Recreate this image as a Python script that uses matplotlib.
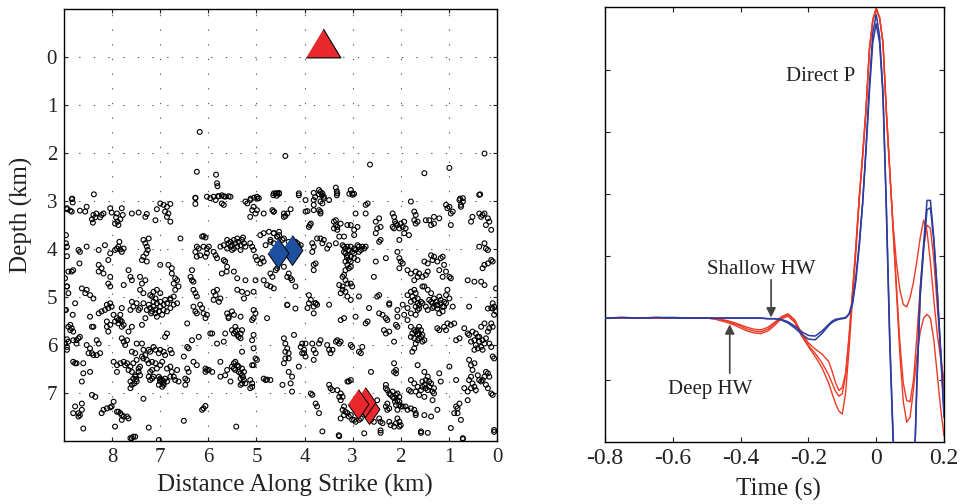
import numpy as np
import matplotlib
matplotlib.use('Agg')
import matplotlib.pyplot as plt

plt.rcParams['font.family'] = ['Liberation Serif', 'DejaVu Serif']
plt.rcParams['axes.unicode_minus'] = False

# Seismicity: (distance along strike km, depth km)
events_top = [
    (6.18, 1.56), (4.40, 2.06), (2.64, 2.24), (0.26, 2.01), (1.51, 2.42), (0.99, 2.31), (6.24, 2.39), (5.84, 2.45),
    (8.38, 2.86), (8.83, 2.95), (6.27, 2.93), (5.96, 2.94), (5.80, 2.90), (5.72, 2.88), (5.65, 2.91), (5.58, 2.90),
    (5.12, 2.95), (5.05, 2.93), (4.98, 2.95), (4.65, 2.88), (4.58, 2.89), (4.12, 2.88), (3.78, 2.92), (3.70, 2.86),
    (3.64, 2.88), (3.60, 2.95), (3.33, 2.80), (3.33, 2.88), (3.07, 2.85), (3.00, 2.87), (0.77, 2.95), (0.35, 2.86),
    (8.94, 3.15), (8.96, 3.88), (8.94, 4.15), (8.91, 4.47), (8.94, 4.78), (8.91, 4.92), (8.96, 5.27), (8.91, 5.62),
    (8.94, 5.88),
]

events_nw = [
    (8.84, 2.96), (8.82, 3.03), (8.94, 3.17), (8.87, 3.20), (8.84, 3.22), (8.53, 3.12), (8.67, 3.20), (8.56, 3.22),
    (8.39, 3.29), (8.42, 3.38), (8.35, 3.34), (8.40, 3.45), (8.33, 3.26), (8.22, 3.29), (8.18, 3.26), (8.25, 3.34),
    (8.04, 3.15), (8.01, 3.24), (7.92, 3.34), (7.89, 3.43), (7.87, 3.50), (7.94, 3.47), (7.83, 3.38), (7.90, 3.26),
    (7.80, 3.15), (7.78, 3.29), (7.59, 3.26), (7.45, 3.24), (7.28, 3.27), (7.31, 3.33), (7.07, 3.17), (7.10, 3.40),
    (7.00, 3.05), (6.93, 3.08), (6.86, 3.12), (6.79, 3.06), (6.90, 3.22), (6.83, 3.26), (6.86, 3.33), (6.79, 3.43),
    (6.27, 2.94), (6.27, 3.06), (6.03, 2.91), (5.89, 2.91), (5.78, 2.90), (5.68, 2.90), (5.54, 2.91), (5.85, 2.98),
    (5.72, 3.05), (5.68, 3.08), (5.82, 2.63), (5.81, 2.69), (5.23, 3.01), (5.19, 3.05), (5.13, 2.98), (4.99, 2.91),
    (4.95, 2.94), (5.06, 3.12), (5.09, 3.19), (5.02, 3.26), (5.13, 3.33), (4.99, 3.19), (4.85, 3.26), (4.64, 3.22),
    (4.60, 2.84), (4.53, 2.85),
    (8.96, 3.71), (8.94, 3.95), (8.70, 4.02), (8.67, 4.06), (8.53, 3.95), (8.28, 4.02), (8.15, 3.92), (8.04, 4.09),
    (8.08, 4.23), (7.94, 4.02), (7.90, 3.99), (7.87, 3.95), (7.83, 4.01), (7.80, 4.06), (7.76, 3.99), (7.85, 3.85),
    (8.68, 4.30), (8.81, 4.44), (8.84, 4.47), (8.98, 4.61), (8.94, 4.78), (8.28, 4.33), (8.22, 4.40), (8.28, 4.47),
    (8.18, 4.51), (8.04, 4.58), (7.66, 4.44), (7.62, 4.58), (7.59, 4.65), (7.42, 4.58), (7.31, 4.65), (7.38, 4.72),
    (7.35, 3.81), (7.31, 3.88), (7.28, 3.95), (7.26, 4.02), (7.29, 4.09), (7.35, 4.16), (7.38, 4.23), (7.24, 3.78),
    (7.28, 4.26), (7.00, 4.33), (6.83, 4.33), (6.76, 4.40), (6.76, 4.51), (6.69, 4.61), (6.65, 4.65), (6.72, 4.72),
    (6.69, 4.85), (6.62, 4.78), (6.58, 3.78), (6.34, 4.44), (6.34, 4.65), (6.37, 4.58), (6.31, 4.68), (6.27, 4.06),
    (6.24, 3.95), (6.20, 3.99), (6.24, 4.16), (6.17, 4.13), (6.10, 3.95), (6.03, 3.99), (5.99, 3.95), (6.03, 4.09),
    (6.06, 4.16), (6.13, 3.74), (6.10, 3.73), (6.06, 3.76), (5.89, 4.06), (5.85, 4.13), (5.82, 4.19), (5.75, 3.95),
    (5.68, 3.92), (5.68, 4.23), (5.65, 4.26), (5.61, 4.37), (5.62, 4.47),
    (5.61, 3.81), (5.58, 3.88), (5.54, 3.85), (5.51, 3.92), (5.47, 3.81), (5.44, 3.88), (5.40, 3.95), (5.37, 3.85),
    (5.33, 3.92), (5.30, 3.81), (5.26, 3.88), (5.23, 3.95), (5.54, 3.95), (5.47, 3.99), (5.61, 3.99), (5.33, 4.02),
    (5.40, 3.78), (5.28, 3.76), (5.51, 4.02), (5.13, 3.88), (5.09, 3.95), (5.06, 4.02), (5.02, 4.16), (4.99, 4.23),
    (4.92, 4.30), (4.88, 4.19), (4.85, 4.26), (4.92, 3.71), (4.85, 3.67), (4.74, 3.64), (4.64, 3.67), (4.57, 3.74),
    (4.71, 3.81), (4.81, 3.92), (5.47, 4.47), (5.40, 4.61), (5.23, 4.65), (5.02, 4.65), (4.85, 4.65), (4.78, 4.75),
    (4.71, 4.78), (5.72, 4.51),
    (8.63, 4.82), (8.53, 4.85), (8.56, 4.92), (8.46, 4.96), (8.39, 5.03), (8.08, 4.72), (8.04, 4.78), (7.76, 4.75),
    (7.42, 4.85), (7.35, 4.92), (7.21, 4.96), (7.14, 4.89), (7.07, 4.85), (7.00, 4.92), (7.10, 5.03), (7.17, 4.99),
    (6.79, 5.03), (6.72, 4.99), (6.31, 4.85), (6.27, 4.92), (6.24, 4.99), (5.89, 4.89), (5.82, 4.85), (5.85, 4.96),
    (5.75, 5.03), (5.40, 4.85), (5.30, 4.89), (5.19, 4.92), (5.26, 5.03), (5.06, 4.89),
]

events_sw = [
    (8.98, 5.27), (8.77, 5.13), (8.82, 5.37), (8.46, 5.41), (8.42, 5.62), (8.39, 5.62), (8.87, 5.58), (8.84, 5.65),
    (8.87, 5.69), (8.81, 5.72), (8.28, 5.34), (8.22, 5.30), (8.15, 5.27), (8.08, 5.23), (8.01, 5.20), (8.04, 5.13),
    (8.11, 5.16), (8.11, 5.51), (8.11, 5.62), (8.04, 5.58), (8.08, 5.72), (7.97, 5.37), (7.90, 5.44), (7.83, 5.48),
    (7.80, 5.51), (7.87, 5.55), (7.94, 5.51), (7.83, 5.37), (7.76, 5.58), (7.80, 5.62), (7.87, 5.48), (7.80, 5.23),
    (7.62, 5.27), (7.56, 5.20), (7.59, 5.10), (7.49, 5.13), (7.42, 5.23), (7.45, 5.27), (7.35, 5.13), (7.66, 5.72),
    (7.59, 5.62), (7.38, 5.58), (7.31, 5.44),
    (7.24, 5.16), (7.21, 5.23), (7.17, 5.30), (7.10, 5.34), (7.14, 5.20), (7.07, 5.13), (7.00, 5.20), (6.93, 5.27),
    (7.03, 5.30), (6.96, 5.37), (7.07, 5.41), (6.86, 5.30), (6.79, 5.23), (6.72, 5.16), (6.86, 5.13), (6.65, 5.13),
    (6.90, 5.06), (6.79, 5.06), (7.14, 5.10), (7.19, 5.34), (7.00, 5.10), (6.93, 5.16), (7.10, 5.26), (7.28, 5.27),
    (6.44, 5.55), (6.86, 5.76), (6.90, 5.83), (6.31, 5.20), (6.27, 5.30), (6.24, 5.34), (6.17, 5.16), (6.13, 5.23),
    (6.10, 5.34), (6.03, 5.37), (6.06, 5.44), (5.89, 5.06), (5.78, 5.10), (5.61, 5.34), (5.58, 5.41), (5.51, 5.30),
    (5.47, 5.37), (5.58, 5.44), (5.33, 5.41), (5.06, 5.27), (5.02, 5.34), (5.06, 5.44), (5.09, 5.48), (4.78, 5.44),
    (5.65, 5.76), (5.68, 5.93), (5.51, 5.69), (5.44, 5.72), (5.47, 5.76), (5.40, 5.79), (5.37, 5.83), (5.33, 5.76),
    (5.33, 5.86), (5.44, 5.62), (5.30, 5.69), (5.40, 5.69), (5.06, 5.79), (5.09, 5.90), (5.96, 5.76), (5.92, 5.76),
    (6.20, 5.83), (6.34, 5.90),
    (8.98, 5.97), (8.94, 6.04), (8.91, 5.93), (8.81, 5.90), (8.74, 5.90), (8.70, 5.86), (8.67, 5.83), (8.74, 5.97),
    (8.94, 6.10), (8.53, 6.00), (8.46, 6.07), (8.42, 6.17), (8.49, 6.17), (8.39, 6.21), (8.32, 6.21), (8.25, 6.17),
    (8.32, 5.90), (8.28, 5.97), (8.81, 6.35), (8.77, 6.38), (8.74, 6.38), (8.60, 6.38), (8.60, 6.59), (8.63, 6.76),
    (8.46, 6.56), (7.97, 6.35), (7.90, 6.42), (7.90, 6.56), (7.83, 6.38), (7.76, 6.35), (7.73, 6.42), (7.69, 6.38),
    (7.62, 6.45), (7.66, 6.52), (7.59, 6.56), (7.56, 6.38), (7.80, 5.86), (7.76, 5.93), (7.69, 5.90), (7.73, 6.00),
    (7.59, 6.14), (7.52, 6.17), (7.49, 5.97), (7.38, 5.97), (7.35, 6.10), (7.31, 6.21), (7.38, 6.24), (7.35, 6.28),
    (7.49, 6.31), (7.42, 6.45), (7.45, 6.56), (7.52, 6.63), (7.56, 6.70), (7.49, 6.76), (7.62, 6.76), (7.59, 6.83),
    (7.62, 6.90), (7.52, 6.66), (7.42, 6.63), (7.45, 6.49), (7.50, 6.71), (7.54, 6.80),
    (7.24, 6.10), (7.21, 6.14), (7.14, 6.04), (7.10, 6.10), (7.03, 6.17), (7.00, 6.10), (6.93, 6.14), (6.90, 6.21),
    (6.79, 6.10), (6.76, 6.17), (7.28, 6.31), (7.24, 6.38), (7.17, 6.35), (7.10, 6.38), (7.00, 6.42), (6.96, 6.35),
    (7.07, 6.49), (7.17, 6.52), (7.21, 6.56), (7.24, 6.66), (7.17, 6.70), (7.21, 6.73), (7.14, 6.66), (7.03, 6.66),
    (7.00, 6.70), (6.96, 6.73), (6.93, 6.76), (7.00, 6.76), (7.03, 6.83), (6.93, 6.83), (6.90, 6.70), (6.86, 6.76),
    (6.96, 6.87), (6.79, 6.66), (6.72, 6.66), (6.76, 6.56), (7.01, 6.73), (6.94, 6.80), (6.86, 6.49), (6.79, 6.45),
    (6.65, 6.52), (6.69, 6.73), (6.62, 6.76), (6.51, 6.24), (6.44, 6.49), (6.41, 6.56), (6.48, 6.70), (6.44, 6.73),
    (6.48, 6.83), (6.31, 6.35), (6.24, 6.42), (6.06, 6.49), (6.03, 6.52), (6.06, 6.56), (5.99, 6.52), (5.92, 6.56),
    (6.41, 6.07), (6.44, 6.04), (5.82, 5.97), (5.75, 6.35), (5.75, 6.66), (5.65, 6.63), (5.61, 6.52), (5.54, 6.76),
    (5.51, 6.45), (5.47, 6.49), (5.44, 6.52), (5.40, 6.42), (5.47, 6.38), (5.44, 6.35), (5.37, 6.45), (5.30, 6.49),
    (5.26, 6.56), (5.30, 6.63), (5.33, 6.70), (5.26, 6.73), (5.23, 6.80), (5.30, 6.80), (5.33, 6.83), (5.37, 6.56),
    (5.33, 6.59), (5.28, 6.67), (5.30, 6.14), (5.06, 6.07), (5.02, 6.28), (4.99, 6.31), (5.06, 6.42), (5.09, 6.42),
    (5.13, 6.73), (5.09, 6.80), (5.09, 6.87), (5.13, 6.90), (4.85, 6.70), (4.81, 6.73), (4.78, 6.72), (4.71, 6.73),
    (8.77, 7.28), (8.81, 7.42), (8.70, 7.42), (8.67, 7.46), (8.63, 7.35), (8.70, 7.49), (8.63, 7.22), (8.60, 7.74),
    (8.42, 7.04), (8.35, 7.08), (8.18, 7.35), (8.11, 7.32), (8.04, 7.30), (8.01, 7.28), (7.97, 7.18), (8.22, 7.42),
    (7.90, 7.39), (7.87, 7.39), (7.83, 7.42), (7.80, 7.46), (7.76, 7.49), (7.69, 7.49), (7.80, 7.56), (7.66, 7.53),
    (7.94, 7.70), (7.62, 7.94), (7.59, 7.94), (7.52, 7.91), (7.35, 7.12), (7.24, 7.72), (7.03, 7.98), (6.51, 7.58),
    (6.13, 7.35), (6.10, 7.32), (6.06, 7.27), (5.42, 7.70), (7.56, 7.91),
]

events_ne = [
    (4.64, 2.84), (4.57, 2.84), (4.53, 2.83), (4.12, 2.84), (3.98, 2.98), (3.81, 2.83), (3.70, 2.77), (3.67, 2.81),
    (3.63, 2.84), (3.60, 2.91), (3.67, 3.01), (3.63, 3.05), (3.81, 2.98), (3.81, 3.08), (3.49, 2.98), (3.35, 2.72),
    (3.32, 2.84), (3.04, 2.77), (3.01, 2.84), (2.97, 2.85), (4.64, 3.22), (4.67, 3.19), (4.43, 3.26), (4.40, 3.31),
    (4.36, 3.26), (4.43, 3.33), (4.29, 3.17), (3.98, 3.22), (3.94, 3.21), (3.81, 3.19), (3.70, 3.19), (3.67, 3.26),
    (3.67, 3.22), (3.87, 3.47), (3.89, 3.50), (3.91, 3.54), (3.39, 3.43), (3.35, 3.50), (3.32, 3.54), (3.39, 3.57),
    (3.32, 3.60), (3.25, 3.47), (3.35, 3.40), (2.94, 3.26), (2.73, 3.08), (2.69, 3.05), (2.73, 3.26), (3.11, 3.50),
    (3.04, 3.50), (2.90, 3.54), (2.97, 3.60), (2.97, 3.71), (3.18, 3.74), (3.28, 3.74), (2.52, 3.43), (2.45, 3.36),
    (2.49, 3.57), (2.42, 3.54), (2.52, 3.67), (2.42, 3.81), (2.45, 3.85), (2.17, 3.26), (2.14, 3.33), (2.10, 3.47),
    (2.17, 3.54), (2.14, 3.57), (2.07, 3.50), (2.00, 3.47), (1.96, 3.54), (1.93, 3.43), (1.90, 3.57), (1.93, 3.67),
    (2.12, 3.43), (2.03, 3.57), (1.83, 3.71), (2.03, 3.81), (1.72, 3.22), (1.69, 3.29), (1.72, 3.40), (1.65, 3.43),
    (1.69, 3.47), (1.79, 3.01), (1.48, 3.40), (1.41, 3.40), (1.31, 3.33), (1.20, 3.36), (1.37, 3.50), (1.31, 3.47),
    (1.06, 3.08), (0.99, 3.12), (0.92, 3.22), (0.96, 3.26), (1.03, 3.15), (0.78, 2.98), (0.75, 3.08), (0.71, 3.01),
    (0.75, 3.12), (0.71, 2.94), (0.96, 3.50), (0.51, 3.33), (0.54, 3.43), (0.37, 2.87), (0.37, 3.26), (0.30, 3.29),
    (0.26, 3.26), (0.19, 3.36), (0.16, 3.43), (0.23, 3.50), (0.12, 3.60), (0.33, 3.33),
    (4.71, 3.85), (4.64, 3.88), (4.57, 3.74), (4.53, 3.71), (4.46, 3.81), (4.43, 3.78), (4.64, 3.67), (4.53, 3.64),
    (4.33, 3.85), (4.26, 3.85), (4.19, 3.85), (4.15, 3.88), (4.08, 3.92), (4.15, 4.02), (4.12, 3.95), (4.71, 4.51),
    (4.67, 4.58), (4.60, 4.44), (4.57, 4.40), (4.43, 4.37), (4.36, 4.58), (4.33, 4.51), (4.29, 4.61), (4.26, 4.65),
    (4.19, 4.78), (4.64, 4.82), (3.84, 3.88), (3.81, 3.95), (3.74, 3.78), (3.67, 3.78), (3.60, 3.81), (3.49, 3.92),
    (3.53, 3.99), (3.63, 3.88), (3.84, 4.06), (3.81, 4.33), (3.77, 4.30), (3.81, 4.44), (3.35, 3.88),
    (3.21, 3.92), (3.18, 3.95), (3.15, 3.99), (3.11, 3.95), (3.04, 3.95), (2.97, 3.99), (2.90, 3.92), (2.87, 3.95),
    (2.80, 3.95), (2.76, 3.99), (2.73, 3.95), (2.83, 4.02), (2.94, 4.02), (3.18, 4.06), (3.15, 4.09), (3.11, 4.13),
    (3.04, 4.16), (2.97, 4.19), (2.90, 4.23), (2.97, 4.09), (3.08, 4.23), (3.15, 4.26), (3.11, 4.33), (3.04, 4.37),
    (3.08, 4.40), (3.15, 4.44), (3.08, 4.02), (3.01, 4.06), (2.87, 4.06), (3.04, 4.26), (3.12, 4.17),
    (3.21, 4.58), (3.18, 4.54), (3.15, 4.65), (3.11, 4.72), (3.21, 4.78), (3.28, 4.75), (3.04, 4.72), (3.01, 4.78),
    (2.52, 4.26), (2.31, 4.19), (2.56, 4.58), (2.07, 4.06), (2.03, 4.19), (2.00, 4.26), (1.96, 4.30), (2.03, 4.40),
    (1.86, 4.44), (1.79, 4.51), (1.69, 4.47), (1.62, 4.51), (1.65, 4.58), (1.72, 4.65), (1.55, 4.58), (1.48, 4.54),
    (1.44, 4.47), (1.37, 4.13), (1.34, 4.23), (1.31, 4.16), (1.51, 4.26), (1.44, 4.30), (1.24, 4.26), (1.17, 4.19),
    (1.10, 4.33), (1.13, 4.16), (1.20, 4.44), (1.13, 4.58), (1.06, 4.47), (0.96, 4.61), (0.99, 4.58), (0.61, 4.65),
    (0.47, 4.68), (0.37, 3.95), (0.26, 3.88), (0.23, 3.99), (0.19, 4.02), (0.12, 4.23), (0.09, 4.26), (0.30, 4.40),
    (0.26, 4.33), (0.19, 4.30), (0.33, 4.68), (0.26, 4.75), (0.02, 4.82),
    (3.91, 4.96), (3.25, 4.92), (3.21, 4.85), (3.15, 4.89), (3.11, 4.99), (2.87, 4.99), (2.49, 4.99), (2.45, 4.96),
    (1.86, 4.96), (1.79, 4.89), (1.76, 4.99), (1.72, 4.85), (1.65, 5.03), (1.69, 4.92), (1.44, 4.85), (1.37, 4.92),
    (1.31, 5.03), (1.20, 4.99), (1.06, 4.96), (1.03, 4.85), (0.99, 5.03), (1.55, 4.78), (1.51, 4.78),
]

events_se = [
    (4.36, 5.17), (4.19, 5.24), (3.87, 5.06), (3.77, 5.13), (3.81, 5.20), (2.24, 5.13), (1.72, 5.06), (1.65, 5.13),
    (1.62, 5.17), (1.58, 5.10), (1.62, 5.24), (1.79, 5.10), (1.69, 5.20), (1.41, 5.06), (1.34, 5.13), (1.24, 5.17),
    (1.17, 5.06), (1.10, 5.10), (1.13, 5.20), (1.24, 5.24), (0.92, 5.20), (0.58, 5.20), (0.19, 5.24), (0.09, 5.24),
    (4.36, 5.16), (3.91, 5.13), (3.77, 5.13), (3.74, 5.16), (3.49, 5.16), (3.04, 5.06), (3.94, 5.23), (3.81, 5.34),
    (3.25, 5.48), (3.18, 5.44), (2.94, 5.41), (2.66, 5.23), (2.69, 5.51), (2.73, 5.55), (2.45, 5.34), (2.38, 5.37),
    (2.31, 5.44), (2.28, 5.48), (2.24, 5.16), (2.07, 5.27), (2.07, 5.41), (1.96, 5.16), (1.86, 5.23), (1.93, 5.37),
    (2.35, 5.69), (2.24, 5.72), (2.31, 5.76), (2.10, 5.58), (2.07, 5.62), (2.14, 5.93),
    (1.79, 5.34), (1.69, 5.37), (1.65, 5.27), (1.55, 5.13), (1.48, 5.20), (1.44, 5.27), (1.37, 5.10), (1.31, 5.20),
    (1.24, 5.16), (1.17, 5.13), (1.10, 5.20), (1.13, 5.30), (1.20, 5.34), (1.27, 5.10), (1.34, 5.23), (1.06, 5.13),
    (1.86, 5.48), (1.79, 5.62), (1.72, 5.69), (1.65, 5.69), (1.62, 5.76), (1.58, 5.83), (1.65, 5.90), (1.72, 5.86),
    (1.76, 5.76), (1.69, 5.97), (1.62, 5.62), (1.55, 5.79), (1.79, 5.83), (1.51, 5.90), (1.72, 6.07), (1.76, 6.14),
    (1.69, 5.72), (1.58, 5.69), (1.65, 5.79), (1.62, 5.86), (1.55, 5.93),
    (1.24, 5.65), (1.20, 5.69), (1.10, 5.62), (1.03, 5.55), (0.96, 5.58), (0.89, 5.55), (1.06, 5.69), (0.85, 5.90),
    (0.78, 5.86), (0.68, 5.65), (0.61, 5.76), (0.58, 5.79), (0.51, 5.72), (0.47, 5.90), (0.44, 6.00), (0.40, 5.83),
    (0.37, 5.93), (0.33, 6.04), (0.30, 6.10), (0.26, 5.97), (0.23, 5.86), (0.19, 5.72), (0.16, 5.65), (0.12, 5.55),
    (0.09, 5.62), (0.26, 5.55), (0.33, 5.62), (0.54, 5.93), (0.40, 6.07), (0.47, 6.10), (0.37, 5.83), (0.30, 5.90),
    (0.44, 5.76), (0.12, 5.23), (0.06, 5.20), (0.02, 5.30), (0.09, 6.24), (0.06, 6.28), (0.06, 5.37), (0.09, 5.13),
    (4.43, 5.86), (4.40, 5.97), (4.36, 6.07), (4.33, 6.17), (4.33, 6.28), (4.40, 6.14), (4.22, 5.79), (4.43, 6.38),
    (4.40, 6.28), (4.33, 6.56), (4.26, 6.66), (4.29, 6.80), (4.46, 6.83), (4.26, 6.97), (4.12, 6.45), (4.05, 5.97),
    (3.98, 5.97), (4.08, 6.04), (4.01, 6.10), (4.01, 6.17), (4.05, 6.17), (3.98, 6.24), (3.81, 6.10), (3.77, 6.17),
    (3.81, 6.31), (3.84, 5.97), (3.67, 5.90), (3.70, 5.97), (3.53, 6.00), (3.49, 6.10), (3.46, 6.17), (3.42, 6.10),
    (3.35, 5.93), (3.32, 5.90), (3.28, 5.97), (3.25, 5.93), (3.04, 6.00), (3.01, 6.04), (2.87, 6.14), (2.83, 6.17),
    (2.80, 6.04), (2.62, 6.56), (3.87, 7.01), (3.84, 7.04), (3.49, 6.83), (3.46, 6.90), (3.42, 6.94), (3.32, 6.94),
    (3.11, 6.76), (3.08, 6.76), (3.04, 6.73), (3.77, 7.22), (3.74, 7.28), (3.70, 7.42), (3.25, 7.01), (3.21, 7.08),
    (3.28, 7.08), (2.14, 6.38), (2.10, 6.52), (2.14, 6.56), (2.10, 6.59),
    (2.31, 6.83), (2.31, 6.90), (2.28, 6.94), (2.24, 7.01), (2.21, 7.04), (2.17, 7.08), (2.14, 7.11), (2.10, 7.04),
    (2.07, 7.01), (2.03, 7.08), (2.07, 7.15), (2.03, 7.18), (2.10, 7.25), (2.00, 7.28), (2.07, 7.35), (1.96, 7.28),
    (2.17, 6.97), (2.12, 7.18), (2.03, 7.25), (2.28, 7.22), (2.31, 7.28), (2.24, 7.32), (2.28, 7.35), (1.90, 7.28),
    (1.86, 7.35), (1.79, 7.32), (1.72, 7.35), (1.69, 7.46),
    (1.65, 6.42), (1.51, 6.56), (1.44, 6.66), (1.41, 6.76), (1.51, 6.83), (1.48, 6.73), (1.55, 6.87), (1.37, 6.80),
    (1.31, 6.90), (1.44, 6.94), (1.58, 6.94), (1.65, 6.87), (1.72, 6.80), (1.79, 6.73), (1.83, 6.94), (1.79, 6.97),
    (1.69, 6.97), (1.62, 7.04), (1.34, 7.15), (1.24, 7.35), (1.34, 6.97), (1.51, 7.08), (1.31, 7.01), (1.41, 6.87),
    (1.48, 6.90), (1.55, 6.76), (1.20, 6.59), (1.17, 6.76), (0.99, 6.45), (0.85, 6.73),
    (0.85, 7.28), (0.82, 7.32), (0.89, 7.42), (0.78, 7.22), (0.82, 7.42), (0.75, 7.56),
    (0.58, 6.73), (0.54, 6.66), (0.51, 6.80), (0.54, 6.90), (0.47, 6.87), (0.44, 6.94), (0.61, 6.97), (0.68, 6.90),
    (0.61, 7.15), (0.58, 6.31), (0.54, 6.42), (0.51, 6.52), (0.47, 6.38), (0.40, 6.63), (0.37, 6.73), (0.33, 6.76),
    (0.30, 6.73), (0.26, 6.66), (0.19, 6.59), (0.16, 6.66), (0.23, 6.83), (0.19, 6.90), (0.12, 7.01), (0.09, 7.04),
    (0.23, 6.56), (0.16, 5.97), (0.12, 6.04),
    (3.25, 7.15), (3.18, 7.28), (3.21, 7.35), (3.15, 7.39), (3.11, 7.42), (3.04, 7.46), (3.08, 7.49), (3.01, 7.56),
    (3.25, 7.53), (3.18, 7.46), (2.97, 7.56), (2.94, 7.60), (2.87, 7.56), (2.83, 7.53), (2.62, 7.56), (2.56, 7.60),
    (2.49, 7.15), (2.45, 7.53), (2.42, 7.60), (2.38, 7.63), (2.24, 7.60), (2.21, 7.67), (2.14, 7.70), (2.10, 7.63),
    (2.07, 7.53), (2.03, 7.60), (2.03, 7.70), (2.00, 7.67), (1.69, 7.42), (1.51, 7.46), (1.37, 7.49), (1.58, 7.80),
    (3.63, 7.80), (3.28, 7.90), (2.42, 7.78), (0.96, 7.73), (0.71, 7.94), (0.06, 7.77), (3.29, 7.88), (2.76, 7.84),
    (2.42, 7.83), (1.58, 7.83), (1.44, 7.83), (0.71, 7.96), (0.06, 7.81),
]

# Stations / sources
station_dist, station_depth = [3.61], [-0.30]
shallow_src_dist = [4.27, 4.56]
shallow_src_depth = [4.03, 4.08]
deep_src_dist = [2.67, 2.75, 2.88]
deep_src_depth = [7.34, 7.18, 7.22]

# Waveforms (time s, normalised amplitude)
t = [-0.80, -0.75, -0.70, -0.65, -0.60, -0.55, -0.50, -0.48, -0.46, -0.44, -0.42, -0.40, -0.38, -0.36, -0.34,
     -0.32, -0.30, -0.28, -0.26, -0.24, -0.22, -0.20, -0.18, -0.16, -0.14, -0.13, -0.12, -0.11, -0.10, -0.09,
     -0.08, -0.07, -0.06, -0.05, -0.04, -0.03, -0.02, -0.01, 0.00, 0.01, 0.02, 0.03, 0.04, 0.05, 0.06,
     0.07, 0.08, 0.09, 0.10, 0.11, 0.12, 0.13, 0.14, 0.15, 0.16, 0.17, 0.18, 0.19, 0.20]

shallow_1 = [0.00, 0.01, 0.00, 0.01, 0.01, 0.00, 0.00, 0.00, 0.00, 0.00, 0.00, 0.00, 0.00, 0.00, 0.00,
             -0.01, -0.01, -0.03, -0.08, -0.16, -0.26, -0.34, -0.35, -0.25, -0.12, -0.07, -0.04, -0.02, -0.01, 0.00,
             0.06, 0.22, 0.60, 1.15, 1.85, 2.75, 3.75, 4.60, 4.90, 4.55, 3.65, 1.75, -0.40, -2.00, -3.20,
             -3.80, -4.00, -3.80, -3.40, -3.00, -1.00, 0.45, 1.20, 1.90, 1.90, 1.30, 0.45, -0.55, -1.60]
shallow_2 = [0.00, 0.01, 0.00, 0.01, 0.00, 0.00, 0.00, 0.00, 0.00, 0.00, 0.00, 0.00, 0.00, 0.00, 0.00,
             -0.01, -0.01, -0.02, -0.06, -0.13, -0.22, -0.28, -0.29, -0.21, -0.10, -0.05, -0.02, -0.01, 0.00, 0.01,
             0.07, 0.25, 0.65, 1.20, 1.85, 2.70, 3.65, 4.45, 4.75, 4.45, 3.60, 1.80, -0.30, -1.90, -3.10,
             -3.70, -3.90, -3.70, -3.30, -2.90, -1.10, 0.35, 1.10, 1.75, 1.78, 1.25, 0.45, -0.50, -1.50]
deep_1 = [0.00, 0.00, 0.00, 0.00, 0.00, 0.00, 0.00, -0.01, -0.02, -0.04, -0.07, -0.11, -0.15, -0.18, -0.19,
          -0.15, -0.07, 0.02, 0.07, -0.03, -0.24, -0.40, -0.50, -0.58, -0.70, -0.86, -1.04, -1.17, -1.12, -0.88,
          -0.30, 0.40, 1.15, 1.95, 2.60, 3.35, 4.35, 4.80, 5.00, 4.85, 4.45, 3.30, 2.35, 1.50, 0.88,
          0.45, 0.22, 0.18, 0.33, 0.58, 0.92, 1.30, 1.58, 1.40, 0.90, 0.30, -0.25, -0.65, -1.00]
deep_2 = [0.00, 0.00, 0.00, 0.00, 0.00, 0.00, 0.00, -0.01, -0.03, -0.05, -0.09, -0.13, -0.18, -0.21, -0.22,
          -0.18, -0.09, 0.01, 0.05, -0.05, -0.27, -0.44, -0.57, -0.72, -0.92, -1.05, -1.18, -1.26, -1.22, -0.92,
          -0.30, 0.42, 1.15, 1.95, 2.65, 3.40, 4.35, 4.82, 5.00, 4.85, 4.45, 3.35, 2.40, 1.45, 0.50,
          -0.40, -1.05, -1.33, -1.35, -1.00, -0.30, 0.50, 1.15, 1.50, 1.45, 0.95, 0.20, -0.50, -1.20]
deep_3 = [0.00, 0.00, 0.00, 0.00, 0.00, 0.00, 0.00, -0.01, -0.04, -0.07, -0.11, -0.16, -0.21, -0.24, -0.25,
          -0.21, -0.12, -0.01, 0.03, -0.07, -0.29, -0.46, -0.62, -0.80, -1.05, -1.22, -1.38, -1.50, -1.55, -1.20,
          -0.50, 0.30, 1.05, 1.90, 2.60, 3.35, 4.30, 4.80, 4.98, 4.85, 4.45, 3.35, 2.40, 1.40, 0.40,
          -0.60, -1.35, -1.68, -1.60, -1.15, -0.62, -0.22, 0.00, 0.06, 0.00, -0.35, -0.90, -1.45, -1.90]

RED = '#ec3a26'
BLUE = '#2b3b9e'
TXT = '#222222'

fig = plt.figure(figsize=(9.66, 5.04), dpi=100)

# ---------------- left panel: seismicity section ----------------
ax = fig.add_axes([0.0663, 0.125, 0.4482, 0.857])
ev = np.array(events_top + events_nw + events_sw + events_ne + events_se)
ax.scatter(ev[:, 0], ev[:, 1], s=12, facecolors='none', edgecolors='black', linewidths=0.8, zorder=2)

tri = [(-1, -0.83), (1, -0.83), (0, 0.83)]
dia = [(0, 1), (0.7, 0), (0, -1), (-0.7, 0)]
ax.plot(station_dist, station_depth, linestyle='none', marker=tri, ms=25,
        mfc='#e8282d', mec='black', mew=0.8, zorder=4, clip_on=False)
for d, z in zip(shallow_src_dist, shallow_src_depth):
    ax.plot(d, z, linestyle='none', marker=dia, ms=21.5, mfc='#1f4f9f', mec='black', mew=0.7, zorder=4)
for d, z in zip(deep_src_dist, deep_src_depth):
    ax.plot(d, z, linestyle='none', marker=dia, ms=21.5, mfc='#e8282d', mec='black', mew=0.7, zorder=4)

ax.set_xlim(9, 0)
ax.set_ylim(8, -1)
ax.set_xticks(range(0, 9))
ax.set_yticks(range(0, 8))
ax.grid(True, color='0.35', linestyle=(0, (1.2, 12)), linewidth=0.8)
ax.tick_params(direction='in', length=3, width=0.8, top=True, right=True, labelsize=15, pad=5, colors=TXT)
ax.set_xlabel('Distance Along Strike (km)', fontsize=18, color=TXT)
ax.set_ylabel('Depth (km)', fontsize=18, color=TXT)
ax.xaxis.set_label_coords(0.533, -0.076)
ax.yaxis.set_label_coords(-0.072, 0.523)
for sp in ax.spines.values():
    sp.set_linewidth(1.0)

# ---------------- right panel: waveforms ----------------
bx = fig.add_axes([0.6263, 0.123, 0.3509, 0.863])
for y in (deep_1, deep_2, deep_3):
    bx.plot(t, y, color=RED, lw=1.0, zorder=2)
for y in (shallow_1, shallow_2):
    bx.plot(t, y, color=BLUE, lw=1.1, zorder=3)

bx.set_xlim(-0.8, 0.2)
bx.set_ylim(-2.0, 5.02)
bx.set_xticks([-0.8, -0.6, -0.4, -0.2, 0.0, 0.2])
bx.set_xticklabels(['-0.8', '-0.6', '-0.4', '-0.2', '0', '0.2'])
bx.set_yticks([-1, 0, 1, 2, 3, 4])
bx.set_yticklabels([])
bx.tick_params(direction='in', length=3.5, width=0.8, top=True, right=True, labelsize=17, pad=4, colors=TXT)
bx.set_xlabel('Time (s)', fontsize=18, color=TXT)
bx.xaxis.set_label_coords(0.513, -0.083)
for sp in bx.spines.values():
    sp.set_linewidth(1.0)

bx.text(-0.163, 3.9, 'Direct P', fontsize=15, ha='center', va='center', color=TXT)
bx.annotate('', xy=(-0.310, 0.01), xytext=(-0.310, 0.62),
            arrowprops=dict(arrowstyle='-|>', color='#444444', lw=1.2, mutation_scale=14, shrinkA=0, shrinkB=0))
bx.text(-0.338, 0.79, 'Shallow HW', fontsize=15, ha='center', va='center', color=TXT)
bx.annotate('', xy=(-0.432, -0.10), xytext=(-0.432, -0.89),
            arrowprops=dict(arrowstyle='-|>', color='#444444', lw=1.2, mutation_scale=14, shrinkA=0, shrinkB=0))
bx.text(-0.491, -1.16, 'Deep HW', fontsize=15, ha='center', va='center', color=TXT)

fig.savefig('out.png', dpi=100)
